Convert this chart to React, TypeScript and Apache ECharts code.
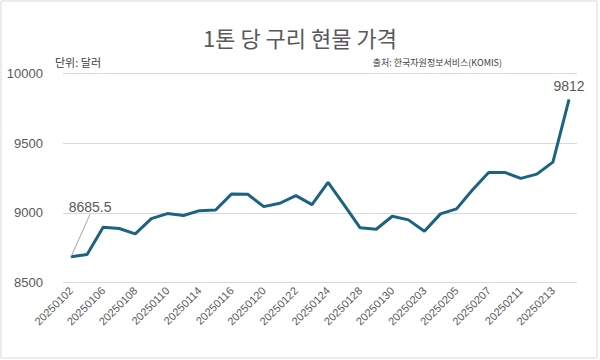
import React, { useEffect, useRef } from "react";
import * as echarts from "echarts";

const categories = [
  "20250102", "20250103", "20250106", "20250107", "20250108", "20250109",
  "20250110", "20250113", "20250114", "20250115", "20250116", "20250117",
  "20250120", "20250121", "20250122", "20250123", "20250124", "20250127",
  "20250128", "20250129", "20250130", "20250131", "20250203", "20250204",
  "20250205", "20250206", "20250207", "20250210", "20250211", "20250212",
  "20250213", "20250214",
];

const prices = [
  8685.5, 8702, 8897, 8888, 8850, 8959, 8995, 8981, 9016, 9021, 9136, 9134,
  9045, 9069, 9124, 9059, 9219, 9057, 8893, 8883, 8976, 8950, 8869, 8993,
  9029, 9166, 9290, 9290, 9247, 9278, 9364, 9812,
];

const yTicks = { min: 8500, max: 10000, interval: 500 };

const titleText = "1톤 당 구리 현물 가격";
const unitText = "단위: 달러";
const sourceText = "출처: 한국자원정보서비스(KOMIS)";

const KR = '"Noto Sans CJK KR", "Noto Sans", sans-serif';
const NUM = '"Liberation Sans", "DejaVu Sans", sans-serif';

export default function App() {
  const ref = useRef<HTMLDivElement>(null);
  useEffect(() => {
    if (!ref.current) return;
    const chart = echarts.init(ref.current, undefined, { renderer: "svg" });
    const last = prices.length - 1;
    const data = prices.map((v, i) => {
      if (i === 0 || i === last) {
        return {
          value: v,
          label: {
            show: true,
            position: "top",
            formatter: String(v),
            fontSize: 14,
            color: "#595959",
            fontFamily: NUM,
          },
          labelLine:
            i === 0
              ? { show: true, lineStyle: { color: "#a6a6a6", width: 1 } }
              : { show: false },
        };
      }
      return v;
    });
    chart.setOption({
      animation: false,
      backgroundColor: "#ffffff",
      graphic: [
        {
          type: "rect",
          shape: { x: 1, y: 1, width: 596, height: 357 },
          style: { fill: "none", stroke: "#d9d9d9", lineWidth: 1 },
          silent: true,
        },
        {
          type: "text",
          x: 300,
          y: 37,
          style: {
            text: titleText,
            font: `22px ${KR}`,
            fill: "#595959",
            textAlign: "center",
            textVerticalAlign: "middle",
          },
        },
        {
          type: "text",
          x: 55,
          y: 62,
          style: {
            text: unitText,
            font: `11px ${KR}`,
            fill: "#404040",
            textAlign: "left",
            textVerticalAlign: "middle",
          },
        },
        {
          type: "text",
          x: 502,
          y: 62,
          style: {
            text: sourceText,
            font: `9px ${KR}`,
            fill: "#404040",
            textAlign: "right",
            textVerticalAlign: "middle",
          },
        },
      ],
      grid: { left: 63, right: 23, top: 73.3, bottom: 77.3, containLabel: false },
      xAxis: {
        type: "category",
        data: categories,
        boundaryGap: true,
        axisLine: { show: false },
        axisTick: { show: false },
        axisLabel: {
          interval: 1,
          rotate: 45,
          fontSize: 11,
          color: "#595959",
          fontFamily: NUM,
          margin: 6,
        },
      },
      yAxis: {
        type: "value",
        min: yTicks.min,
        max: yTicks.max,
        interval: yTicks.interval,
        axisLine: { show: false },
        axisTick: { show: false },
        splitLine: { lineStyle: { color: "#d9d9d9", width: 1 } },
        axisLabel: {
          fontSize: 13,
          color: "#595959",
          fontFamily: NUM,
          margin: 20,
          formatter: (v: number) => String(v),
        },
      },
      series: [
        {
          type: "line",
          data,
          symbol: "circle",
          symbolSize: 1,
          showSymbol: true,
          showAllSymbol: true,
          lineStyle: { color: "#1c6383", width: 3 },
          itemStyle: { color: "#1c6383" },
          labelLayout: (p: any) =>
            p.dataIndex === 0 ? { dx: 19, dy: -37 } : { dy: -1 },
          z: 3,
        },
      ],
    });
    return () => chart.dispose();
  }, []);
  return (
    <div
      ref={ref}
      style={{ position: "fixed", left: 0, top: 0, width: 600, height: 360 }}
    />
  );
}
